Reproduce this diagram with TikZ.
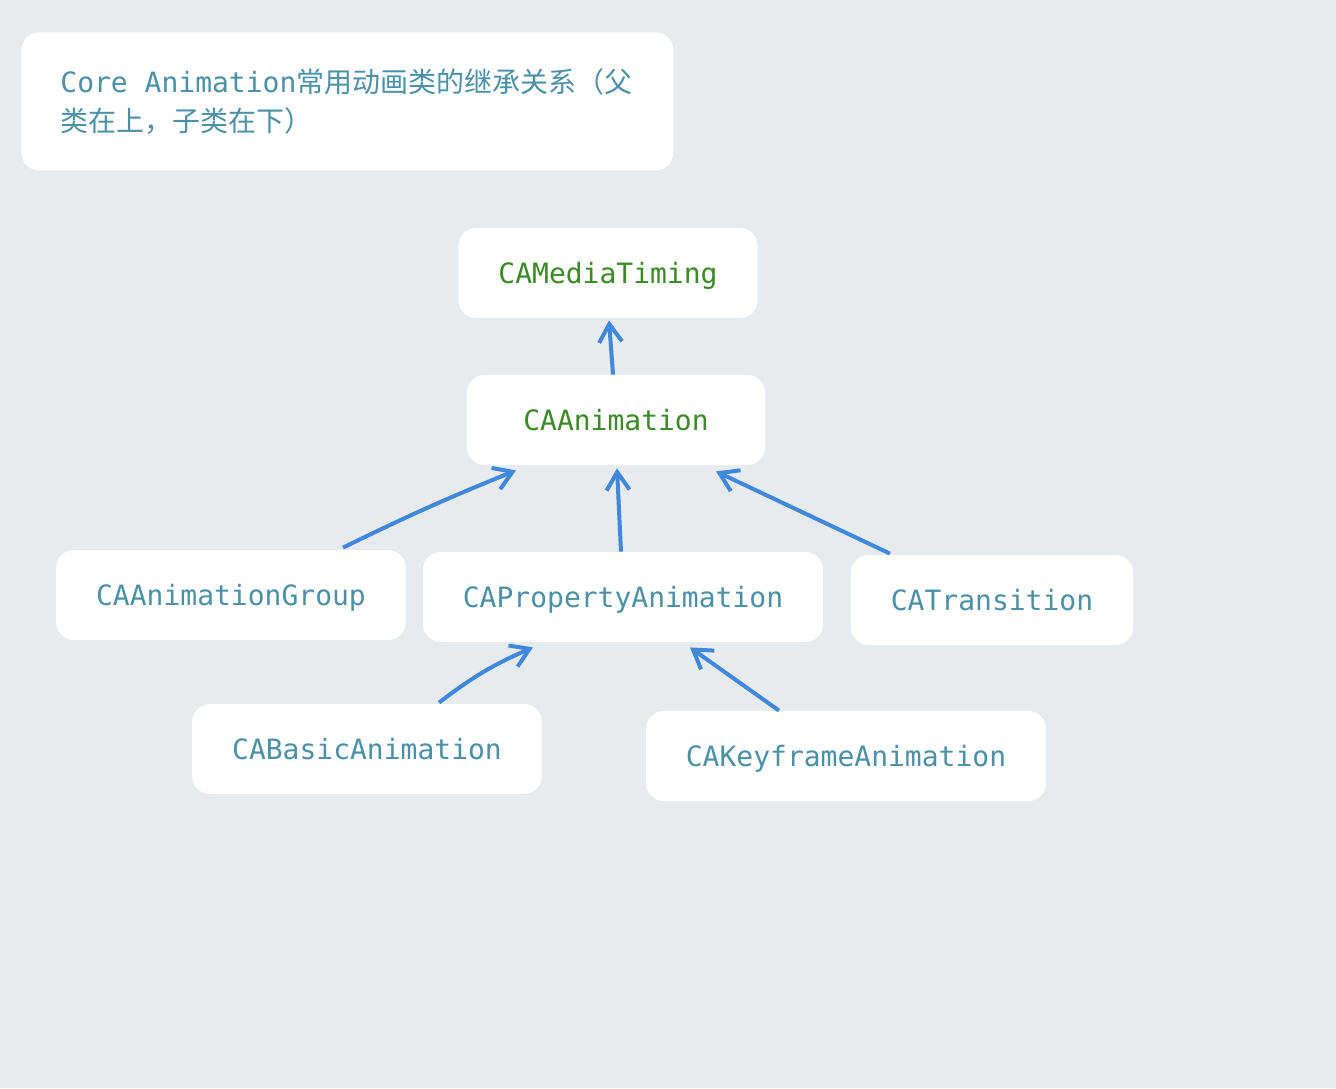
\documentclass[tikz,border=0pt]{standalone}
\usepackage{fontspec}
\setmonofont{DejaVu Sans Mono}
\newfontfamily\cjk{Noto Sans CJK SC}
\usepackage{xcolor}
\usetikzlibrary{arrows.meta, calc}
\definecolor{bgcol}{HTML}{E8EBEE}
\definecolor{clsblue}{HTML}{4A90A6}
\definecolor{clsgreen}{HTML}{3A8A25}
\definecolor{arrcol}{HTML}{3F88DB}
\newcommand\monospc{\hspace{8.43pt}}
\tikzstyle{cls} = [rectangle, rounded corners=9pt, fill=white, minimum height=45pt, inner xsep=20pt, text height=12pt, text depth=1.4pt, text centered, font=\fontsize{14}{17}\selectfont\ttfamily, text=clsblue]
\tikzstyle{root} = [cls, minimum width=149pt, text=clsgreen]
\tikzstyle{note} = [rectangle, rounded corners=9pt, fill=white, text width=287pt, inner xsep=19.5pt, minimum height=69pt, align=left, font=\fontsize{14}{19.5}\selectfont\ttfamily, text=clsblue]
\tikzstyle{inherit} = [line width=2pt, draw=arrcol, -{Straight Barb[length=9pt,width=11.5pt]}]

\begin{document}
\begin{tikzpicture}[x=0.5pt, y=-0.5pt]
   \fill[bgcol] (0,0) rectangle (1336,1088);
   \node (title) [note, anchor=north west] at (21,32) {\mbox{Core\monospc Animation{\cjk 常用动画类的继承关系（父}}\\{\cjk 类在上，子类在下）}};
   \node (timing) [root] at (608,273) {CAMediaTiming};
   \node (anim) [root] at (616,420) {CAAnimation};
   \node (group) [cls] at (231,595) {CAAnimationGroup};
   \node (prop) [cls] at (623,597) {CAPropertyAnimation};
   \node (trans) [cls] at (992,600) {CATransition};
   \node (basic) [cls] at (367,749) {CABasicAnimation};
   \node (key) [cls] at (846,756) {CAKeyframeAnimation};
   \draw [inherit] ($(anim.north)+(-3,0)$) -- ($(timing.south)+(1,2)$);
   \draw [inherit] ($(group.north)+(112,-2)$) to[bend left=2] ($(anim.south)+(-100,5)$);
   \draw [inherit] ($(prop.north)+(-2,0)$) -- ($(anim.south)+(1,3)$);
   \draw [inherit] ($(trans.north)+(-102,-1)$) -- ($(anim.south)+(100,6)$);
   \draw [inherit] ($(basic.north)+(72,-1)$) to[bend left=7] ($(prop.south)+(-90,5)$);
   \draw [inherit] ($(key.north)+(-67,0)$) -- ($(prop.south)+(67,5)$);
\end{tikzpicture}
\end{document}
